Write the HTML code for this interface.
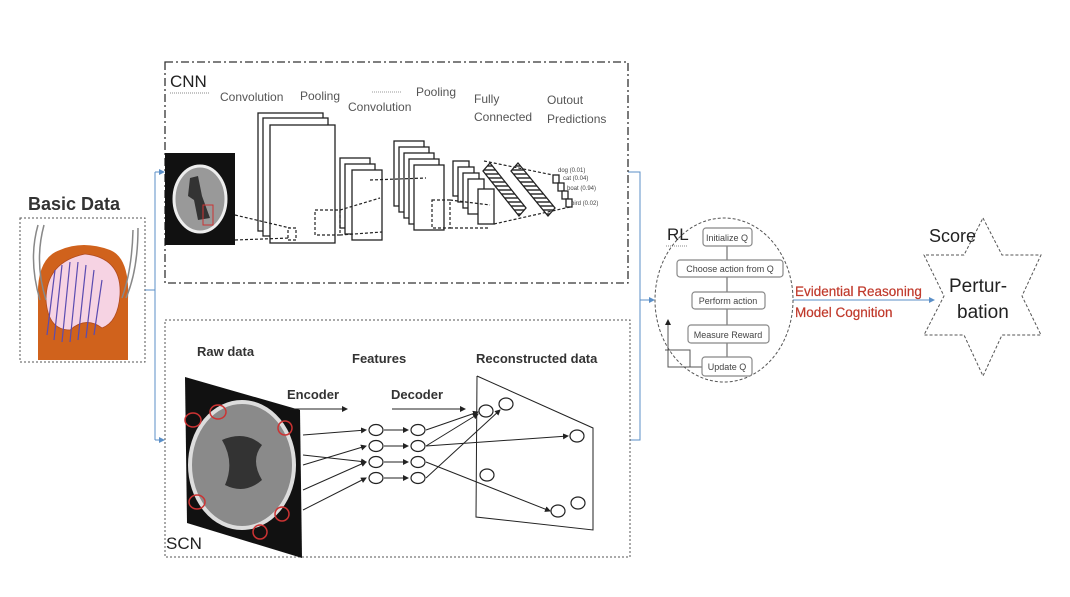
<!DOCTYPE html>
<html><head><meta charset="utf-8"><style>
html,body{margin:0;padding:0;background:#fff;width:1070px;height:597px;overflow:hidden}
svg text{font-family:"Liberation Sans","DejaVu Sans",sans-serif}
</style></head><body>
<svg width="1070" height="597" viewBox="0 0 1070 597" xmlns="http://www.w3.org/2000/svg">
<defs>
<marker id="ab" markerWidth="6" markerHeight="6" refX="5" refY="3" orient="auto"><path d="M0,0 L6,3 L0,6z" fill="#5b8fc7"/></marker>
<marker id="ak" markerWidth="6" markerHeight="6" refX="5" refY="3" orient="auto"><path d="M0,0 L6,3 L0,6z" fill="#222"/></marker>
<pattern id="fc" width="4" height="4" patternUnits="userSpaceOnUse"><rect width="4" height="4" fill="#fff"/><path d="M0,2 L4,2" stroke="#222" stroke-width="1.4"/></pattern>
</defs>
<!-- Basic Data -->
<text x="28" y="210" font-size="18" font-weight="bold" fill="#333">Basic Data</text>
<rect x="20" y="218" width="125" height="144" fill="none" stroke="#555" stroke-dasharray="2,2"/>
<path d="M38,360 L38,300 Q36,258 60,250 Q83,240 110,250 Q130,258 128,300 L128,360 Z" fill="#d0621c"/>
<path d="M46,300 Q46,262 85,254 Q122,258 120,295 Q118,322 102,328 Q86,316 70,330 Q48,330 46,300Z" fill="#f6d3e3" stroke="#b04a20" stroke-width="0.8"/>
<g stroke="#5a4bb0" stroke-width="1.2" fill="none">
<path d="M55,270 L47,335"/><path d="M62,265 L54,340"/><path d="M70,262 L62,342"/><path d="M78,262 L70,342"/><path d="M86,265 L78,340"/><path d="M94,270 L86,338"/><path d="M102,280 L94,335"/>
</g>
<g stroke="#888" stroke-width="1.5" fill="none"><path d="M38,225 Q28,260 40,300"/><path d="M44,225 Q34,262 46,300"/><path d="M138,228 Q138,270 126,298"/><path d="M133,230 Q132,270 122,298"/></g>
<!-- connectors -->
<g stroke="#5b8fc7" stroke-width="1" fill="none">
<path d="M145,290 L155,290"/><path d="M155,172 L155,440"/>
<path d="M155,172 L164,172" marker-end="url(#ab)"/><path d="M155,440 L164,440" marker-end="url(#ab)"/>
<path d="M628,172 L640,172 L640,440 L630,440"/><path d="M640,300 L654,300" marker-end="url(#ab)"/>
<path d="M793,300 L934,300" marker-end="url(#ab)"/>
</g>
<!-- CNN box -->
<rect x="165" y="62" width="463" height="221" fill="none" stroke="#333" stroke-width="1.3" stroke-dasharray="8,3,2,3"/>
<text x="170" y="87" font-size="17" fill="#222">CNN</text>
<line x1="170" y1="93" x2="210" y2="93" stroke="#888" stroke-dasharray="1,1"/>
<g font-size="12" fill="#555">
<text x="220" y="101">Convolution</text><text x="300" y="100">Pooling</text>
<text x="348" y="111">Convolution</text><text x="416" y="96">Pooling</text>
<text x="474" y="103">Fully</text><text x="474" y="121">Connected</text>
<text x="547" y="104">Outout</text><text x="547" y="123">Predictions</text>
</g>
<line x1="372" y1="92" x2="402" y2="92" stroke="#999" stroke-dasharray="1,1"/>
<rect x="165" y="153" width="70" height="92" fill="#111"/>
<ellipse cx="200" cy="199" rx="26" ry="33" fill="#999" stroke="#eee" stroke-width="3"/>
<path d="M190,178 L198,176 L202,196 L210,218 L198,220 L194,200 L188,196Z" fill="#333"/>
<rect x="203" y="205" width="10" height="20" fill="none" stroke="#c33"/>
<g fill="#fff" stroke="#222" stroke-width="1.3">
<rect x="258" y="113" width="65" height="118"/><rect x="263" y="118" width="65" height="118"/><rect x="270" y="125" width="65" height="118"/>
<rect x="340" y="158" width="30" height="70"/><rect x="345" y="164" width="30" height="70"/><rect x="352" y="170" width="30" height="70"/>
<rect x="394" y="141" width="30" height="65"/><rect x="399" y="147" width="30" height="65"/><rect x="404" y="153" width="30" height="65"/><rect x="409" y="159" width="30" height="65"/><rect x="414" y="165" width="30" height="65"/>
<rect x="453" y="161" width="16" height="35"/><rect x="458" y="167" width="16" height="35"/><rect x="463" y="173" width="16" height="35"/><rect x="468" y="179" width="16" height="35"/><rect x="478" y="189" width="16" height="35"/>
</g>
<g stroke="#222" stroke-width="1.3">
<path d="M490,163 L526,208 L519,216 L483,171Z" fill="url(#fc)"/><path d="M518,163 L555,208 L548,216 L511,171Z" fill="url(#fc)"/>
</g>
<g stroke="#222" stroke-width="1.3" fill="#fff">
<rect x="553" y="175" width="6" height="8"/><rect x="558" y="183" width="6" height="8"/><rect x="562" y="191" width="6" height="8"/><rect x="566" y="199" width="6" height="8"/>
</g>
<g stroke="#222" stroke-width="1.2" stroke-dasharray="3,2" fill="none">
<path d="M235,215 L290,228 M235,240 L290,238"/><rect x="288" y="228" width="8" height="12"/>
<rect x="315" y="210" width="25" height="25"/><path d="M340,210 L380,198 M340,235 L382,232"/>
<rect x="432" y="200" width="18" height="28"/><path d="M450,200 L490,205 M450,228 L490,228"/>
<path d="M370,180 L426,178"/><path d="M484,161 L553,175 M494,224 L570,207"/>
</g>
<g font-size="6" fill="#444"><text x="558" y="172">dog (0.01)</text><text x="563" y="180">cat (0.04)</text><text x="567" y="190">boat (0.94)</text><text x="571" y="205">bird (0.02)</text></g>
<!-- SCN box -->
<rect x="165" y="320" width="465" height="237" fill="none" stroke="#555" stroke-dasharray="2,2"/>
<text x="166" y="549" font-size="17" fill="#222">SCN</text>
<g font-size="13" font-weight="bold" fill="#333">
<text x="197" y="356">Raw data</text><text x="352" y="363">Features</text><text x="476" y="363">Reconstructed data</text>
<text x="287" y="399">Encoder</text><text x="391" y="399">Decoder</text>
</g>
<polygon points="185,377 300,410 302,558 187,523" fill="#111"/>
<ellipse cx="242" cy="465" rx="52" ry="63" fill="#8a8a8a" stroke="#ddd" stroke-width="4"/>
<path d="M222,440 Q245,430 262,445 Q250,460 262,480 Q245,495 225,485 Q235,462 222,440Z" fill="#333"/>
<g fill="none" stroke="#c33" stroke-width="1.5"><ellipse cx="193" cy="420" rx="8" ry="7"/><ellipse cx="218" cy="412" rx="8" ry="7"/><ellipse cx="285" cy="428" rx="7" ry="7"/><ellipse cx="197" cy="502" rx="8" ry="7"/><ellipse cx="282" cy="514" rx="7" ry="7"/><ellipse cx="260" cy="532" rx="7" ry="7"/></g>
<g stroke="#222" stroke-width="1" fill="none">
<path d="M290,409 L347,409" marker-end="url(#ak)"/><path d="M392,409 L465,409" marker-end="url(#ak)"/>
<polyline points="477,376 593,428 593,530 476,517 477,376"/>
<path d="M303,435 L366,430" marker-end="url(#ak)"/><path d="M303,455 L366,462" marker-end="url(#ak)"/><path d="M303,465 L366,446" marker-end="url(#ak)"/>
<path d="M303,490 L366,462" marker-end="url(#ak)"/><path d="M303,510 L366,478" marker-end="url(#ak)"/>
<path d="M384,430 L408,430" marker-end="url(#ak)"/><path d="M384,446 L408,446" marker-end="url(#ak)"/><path d="M384,462 L408,462" marker-end="url(#ak)"/><path d="M384,478 L408,478" marker-end="url(#ak)"/>
<path d="M426,430 L478,412" marker-end="url(#ak)"/><path d="M426,446 L478,414" marker-end="url(#ak)"/><path d="M426,446 L568,436" marker-end="url(#ak)"/>
<path d="M426,462 L550,511" marker-end="url(#ak)"/><path d="M426,478 L500,410" marker-end="url(#ak)"/>
</g>
<g fill="#fff" stroke="#222" stroke-width="1.2">
<ellipse cx="376" cy="430" rx="7" ry="5.5"/><ellipse cx="376" cy="446" rx="7" ry="5.5"/><ellipse cx="376" cy="462" rx="7" ry="5.5"/><ellipse cx="376" cy="478" rx="7" ry="5.5"/>
<ellipse cx="418" cy="430" rx="7" ry="5.5"/><ellipse cx="418" cy="446" rx="7" ry="5.5"/><ellipse cx="418" cy="462" rx="7" ry="5.5"/><ellipse cx="418" cy="478" rx="7" ry="5.5"/>
<ellipse cx="486" cy="411" rx="7" ry="6"/><ellipse cx="506" cy="404" rx="7" ry="6"/><ellipse cx="577" cy="436" rx="7" ry="6"/><ellipse cx="487" cy="475" rx="7" ry="6"/><ellipse cx="558" cy="511" rx="7" ry="6"/><ellipse cx="578" cy="503" rx="7" ry="6"/>
</g>
<!-- RL -->
<text x="667" y="240" font-size="17" fill="#222">RL</text>
<line x1="666" y1="246" x2="688" y2="246" stroke="#888" stroke-dasharray="1,1"/>
<ellipse cx="724" cy="300" rx="69" ry="82" fill="none" stroke="#555" stroke-dasharray="3,2"/>
<g stroke="#555" stroke-width="1" fill="none">
<path d="M727,246 L727,260 M727,277 L727,292 M727,309 L727,325 M727,343 L727,357"/>
<path d="M702,367 L668,367 L668,320" marker-end="url(#ak)"/><path d="M690,367 L690,350 L665,350"/>
</g>
<g fill="#fff" stroke="#888" stroke-width="1.2">
<rect x="703" y="228" width="49" height="18" rx="3"/><rect x="677" y="260" width="106" height="17" rx="3"/><rect x="692" y="292" width="73" height="17" rx="3"/><rect x="688" y="325" width="81" height="18" rx="3"/><rect x="702" y="357" width="50" height="19" rx="3"/>
</g>
<g font-size="9" fill="#444" text-anchor="middle">
<text x="727" y="241">Initialize Q</text><text x="730" y="272">Choose action from Q</text><text x="728" y="304">Perform action</text><text x="728" y="338">Measure Reward</text><text x="727" y="370">Update Q</text>
</g>
<text x="795" y="296" font-size="13.5" fill="#c0392b" stroke="#c0392b" stroke-width="0.2">Evidential Reasoning</text>
<text x="795" y="317" font-size="13.5" fill="#c0392b" stroke="#c0392b" stroke-width="0.2">Model Cognition</text>
<!-- star -->
<polygon points="983,218 1002,255 1041,255 1022,296 1041,335 1002,335 983,376 964,335 924,335 944,296 924,255 964,255" fill="none" stroke="#555" stroke-dasharray="3,2"/>
<text x="929" y="242" font-size="18" fill="#222">Score</text>
<text x="949" y="292" font-size="19" fill="#222">Pertur-</text>
<text x="957" y="318" font-size="19" fill="#222">bation</text>
</svg>
</body></html>
